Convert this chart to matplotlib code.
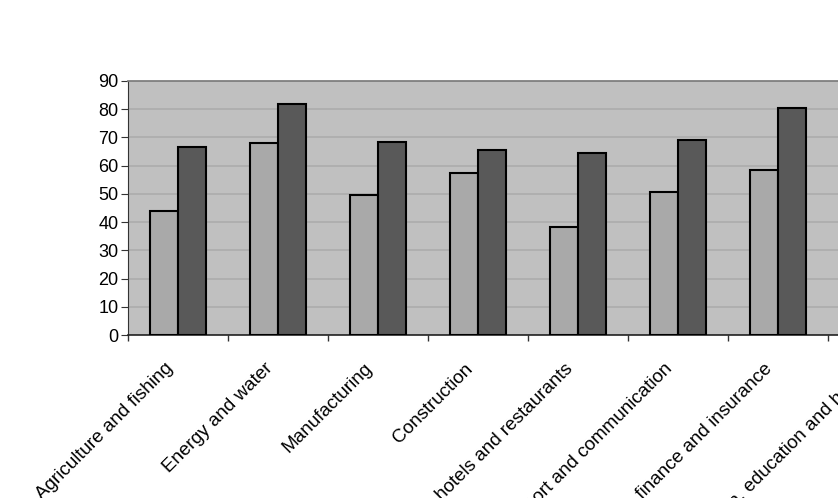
import matplotlib
matplotlib.use("Agg")
import matplotlib.pyplot as plt
import numpy as np

plt.rcParams['font.family'] = ['Liberation Sans', 'DejaVu Sans']

# Sectors (the last one runs off the right edge of the picture)
sectors = [
    "Agriculture and fishing",
    "Energy and water",
    "Manufacturing",
    "Construction",
    "Distribution, hotels and restaurants",
    "Transport and communication",
    "Banking, finance and insurance",
    "Public administration, education and health",
]
# Values for the visible groups
series_light = [44.0, 68.1, 49.7, 57.5, 38.2, 50.6, 58.3]
series_dark = [66.6, 81.7, 68.5, 65.6, 64.5, 69.0, 80.3]
y_ticks = list(range(0, 91, 10))

fig = plt.figure(figsize=(8.38, 4.98), dpi=100)
# axes deliberately wider than the figure, as in the cropped original
ax = fig.add_axes([128 / 838, 163 / 498, 800 / 838, 254 / 498])
ax.set_facecolor("#C0C0C0")

x = np.arange(len(series_light))
w = 0.28
ax.bar(x - w / 2, series_light, width=w, color="#A9A9A9",
       edgecolor="black", linewidth=1.5, zorder=3)
ax.bar(x + w / 2, series_dark, width=w, color="#595959",
       edgecolor="black", linewidth=1.5, zorder=3)

ax.set_xlim(-0.5, len(sectors) - 0.5)
ax.set_ylim(0, 90)
ax.set_yticks(y_ticks)
ax.yaxis.grid(True, color="#ABABAB", linewidth=1.1, zorder=0)
ax.set_axisbelow(True)

# ticks at category boundaries, no tick labels on x
ax.set_xticks(np.arange(len(sectors) + 1) - 0.5)
ax.set_xticklabels([])
ax.tick_params(axis="x", direction="out", length=4, color="#333333", width=1)
ax.tick_params(axis="y", direction="out", length=5, color="#333333",
               labelsize=13, pad=2)

# category names drawn as rotated text hanging below each group
for i, name in enumerate(sectors):
    ax.annotate(name, xy=(i, 0), xycoords=("data", "axes fraction"),
                xytext=(-10, -18), textcoords="offset points",
                rotation=45, rotation_mode="anchor", ha="right", va="top",
                fontsize=13.6, annotation_clip=False)

for side in ("top", "right"):
    ax.spines[side].set_color("#808080")
    ax.spines[side].set_linewidth(1.3)
ax.spines["left"].set_color("#333333")
ax.spines["bottom"].set_color("#222222")
ax.spines["bottom"].set_linewidth(1.2)

fig.savefig("out.png", dpi=100)
